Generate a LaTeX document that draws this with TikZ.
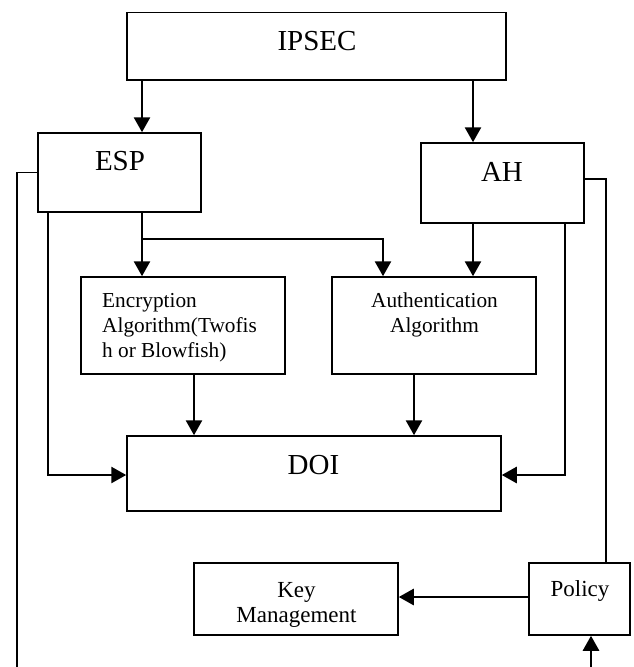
\documentclass[tikz,border=0pt]{standalone}
\usepackage{fontspec}
\setmainfont{Liberation Serif}
\usetikzlibrary{arrows.meta}
\tikzset{
  box/.style={draw, line width=1.5pt, inner sep=0pt},
  lbl/.style={inner sep=0pt, anchor=base},
  lblw/.style={inner sep=0pt, anchor=base west},
  big/.style={font=\fontsize{29}{34}\selectfont},
  small/.style={font=\fontsize{21.3}{25}\selectfont},
  mid/.style={font=\fontsize{23}{25}\selectfont},
  arr/.style={line width=2.7pt, -{Triangle[length=15pt,width=16pt]}},
  plain/.style={line width=1.5pt},
}
\begin{document}
\begin{tikzpicture}[x=1pt, y=-1pt]
  \fill[white] (0,0) rectangle (634,667);
  \useasboundingbox (0,0) rectangle (634,667);

  % boxes
  \node[box, minimum width=379pt, minimum height=67.3pt] (ipsec)  at (316.5,46.35) {};
  \node[box, minimum width=163pt, minimum height=79pt]   (esp)    at (119.5,172.5) {};
  \node[box, minimum width=163pt, minimum height=80pt]   (ah)     at (502.5,183) {};
  \node[box, minimum width=204pt, minimum height=97pt]   (enc)    at (183,325.5) {};
  \node[box, minimum width=204pt, minimum height=97pt]   (auth)   at (434,325.5) {};
  \node[box, minimum width=374pt, minimum height=75pt]   (doi)    at (314,473.5) {};
  \node[box, minimum width=204pt, minimum height=72pt]   (key)    at (296,599) {};
  \node[box, minimum width=101pt, minimum height=72pt]   (policy) at (579.5,599) {};

  % labels
  \node[lbl, big] (ipsecT) at (317,50) {IPSEC};
  \node[lbl, big] (espT) at (120,170) {ESP};
  \node[lbl, big] (ahT) at (502,181) {AH};
  \node[lblw, small] (encT1) at (102,307) {Encryption};
  \node[lblw, small] (encT2) at (102,332) {Algorithm(Twofis};
  \node[lblw, small] (encT3) at (102,357) {h or Blowfish)};
  \node[lbl, small] (authT1) at (434.5,307) {Authentication};
  \node[lbl, small] (authT2) at (434.5,332) {Algorithm};
  \node[lbl, big] (doiT) at (313.5,474) {DOI};
  \node[lbl, mid] (keyT1) at (296.5,597) {Key};
  \node[lbl, mid] (keyT2) at (296.5,622) {Management};
  \node[lbl, mid] (policyT) at (580,596) {Policy};

  % connector columns and rows
  \coordinate (xEsp) at (142,0);
  \coordinate (xAh) at (473,0);
  \coordinate (xAuthIn) at (383,0);
  \coordinate (xEncOut) at (194,0);
  \coordinate (xAuthOut) at (414,0);
  \coordinate (xEspSide) at (48,0);
  \coordinate (xAhSide) at (565,0);
  \coordinate (xFarL) at (17,0);
  \coordinate (xFarR) at (606,0);
  \coordinate (xPolIn) at (591,0);
  \coordinate (yBus) at (0,239);
  \coordinate (yDoi) at (0,475);
  \coordinate (yAhOut) at (0,179);
  \coordinate (yKey) at (0,597);
  \coordinate (yBottom) at (0,667);

  % connectors
  \draw[arr] (ipsec.south -| xEsp) -- (esp.north -| xEsp);
  \draw[arr] (ipsec.south -| xAh) -- (ah.north -| xAh);
  \draw[arr] (esp.south -| xEsp) -- (enc.north -| xEsp);
  \draw[arr] (yBus -| xEsp) -- (yBus -| xAuthIn) -- (auth.north -| xAuthIn);
  \draw[arr] (ah.south -| xAh) -- (auth.north -| xAh);
  \draw[arr] (enc.south -| xEncOut) -- (doi.north -| xEncOut);
  \draw[arr] (auth.south -| xAuthOut) -- (doi.north -| xAuthOut);
  \draw[arr] (esp.south -| xEspSide) -- (yDoi -| xEspSide) -- (doi.west |- yDoi);
  \draw[arr] (ah.south -| xAhSide) -- (yDoi -| xAhSide) -- (doi.east |- yDoi);
  \draw[plain] (esp.west) -- (esp.west -| xFarL) -- (yBottom -| xFarL);
  \draw[plain] (ah.east |- yAhOut) -- (yAhOut -| xFarR) -- (policy.north -| xFarR);
  \draw[arr] (policy.west |- yKey) -- (key.east |- yKey);
  \draw[arr] (yBottom -| xPolIn) -- (policy.south -| xPolIn);
\end{tikzpicture}
\end{document}
